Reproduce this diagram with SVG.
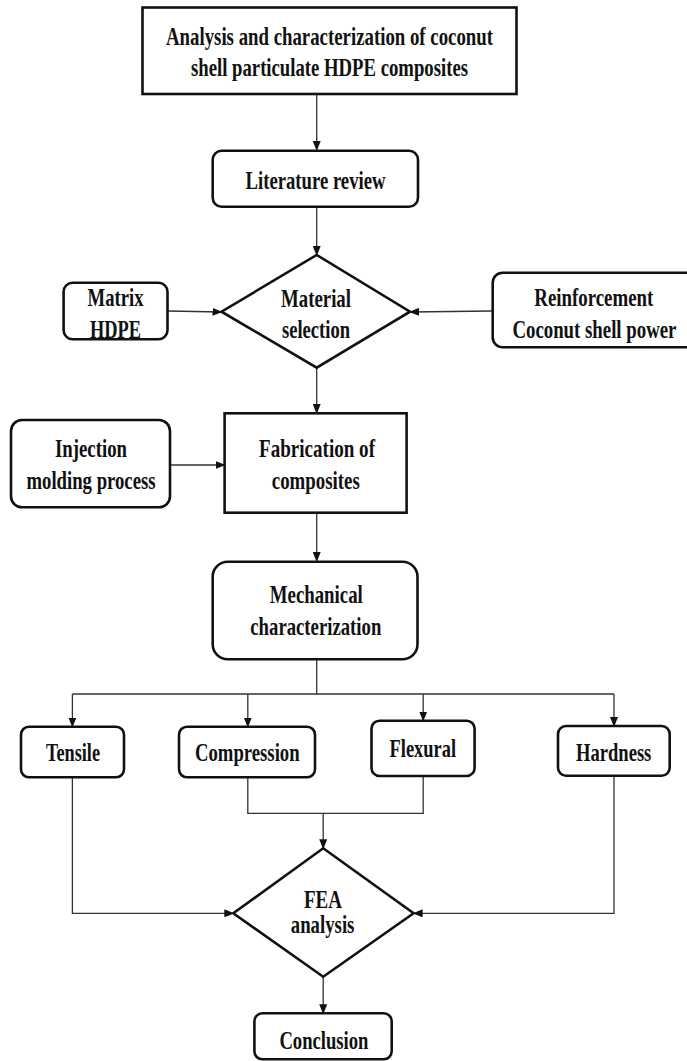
<svg xmlns="http://www.w3.org/2000/svg" width="687" height="1061" viewBox="0 0 687 1061">
<style>
.box{fill:#fff;stroke:#111;stroke-width:2.6}
.t{font-family:"Liberation Serif","Times New Roman",serif;font-weight:bold;font-size:25px;fill:#111;text-anchor:middle}
.c{fill:none;stroke:#333;stroke-width:1.3}
</style>
<defs>
<marker id="ah" markerWidth="10" markerHeight="8" refX="9" refY="4" orient="auto" markerUnits="userSpaceOnUse">
<path d="M0,0 L10,4 L0,8 Z" fill="#111"/>
</marker>
</defs>
<rect width="687" height="1061" fill="#fff"/>
<g id="connectors">
<line class="c" x1="316.7" y1="94" x2="316.7" y2="150" marker-end="url(#ah)"/>
<line class="c" x1="316.7" y1="207" x2="316.7" y2="255" marker-end="url(#ah)"/>
<line class="c" x1="167.5" y1="311" x2="221.5" y2="312" marker-end="url(#ah)"/>
<line class="c" x1="492" y1="311" x2="410" y2="312" marker-end="url(#ah)"/>
<line class="c" x1="316.7" y1="368" x2="316.7" y2="413" marker-end="url(#ah)"/>
<line class="c" x1="170" y1="465" x2="224.6" y2="465" marker-end="url(#ah)"/>
<line class="c" x1="316.7" y1="513" x2="316.7" y2="561" marker-end="url(#ah)"/>
<line class="c" x1="316.7" y1="659" x2="316.7" y2="694"/>
<line class="c" x1="72.4" y1="694" x2="614" y2="694"/>
<line class="c" x1="72.4" y1="694" x2="72.4" y2="726.5" marker-end="url(#ah)"/>
<line class="c" x1="247.8" y1="694" x2="247.8" y2="726.5" marker-end="url(#ah)"/>
<line class="c" x1="423.2" y1="694" x2="423.2" y2="720.5" marker-end="url(#ah)"/>
<line class="c" x1="614" y1="694" x2="614" y2="726" marker-end="url(#ah)"/>
<polyline class="c" points="247.8,777 247.8,813.3 423.2,813.3 423.2,776"/>
<line class="c" x1="323.2" y1="813.3" x2="323.2" y2="848.3" marker-end="url(#ah)"/>
<polyline class="c" points="72.4,777 72.4,913.3 233.3,913.3" marker-end="url(#ah)"/>
<polyline class="c" points="614,775.7 614,913.3 413.6,913.3" marker-end="url(#ah)"/>
<line class="c" x1="323.2" y1="976.7" x2="323.2" y2="1013.3" marker-end="url(#ah)"/>
</g>
<g id="title">
<rect class="box" x="142.5" y="7.5" width="374" height="86.5"/>
<text class="t" x="329.5" y="45" textLength="327" lengthAdjust="spacingAndGlyphs">Analysis and characterization of coconut</text>
<text class="t" x="329.5" y="76" textLength="277" lengthAdjust="spacingAndGlyphs">shell particulate HDPE composites</text>
</g>
<g id="literature">
<rect class="box" x="212.7" y="150.7" width="205.3" height="56" rx="9"/>
<text class="t" x="315.5" y="189" textLength="140" lengthAdjust="spacingAndGlyphs">Literature review</text>
</g>
<g id="material">
<polygon class="box" points="316.7,255 410,311.7 316.7,367.7 221.5,311.7"/>
<text class="t" x="316" y="307" textLength="70" lengthAdjust="spacingAndGlyphs">Material</text>
<text class="t" x="316" y="338" textLength="68" lengthAdjust="spacingAndGlyphs">selection</text>
</g>
<g id="matrix">
<rect class="box" x="63.6" y="282.7" width="103.9" height="56.6" rx="9"/>
<text class="t" x="115.5" y="306" textLength="56" lengthAdjust="spacingAndGlyphs">Matrix</text>
<text class="t" x="115.5" y="338" textLength="51" lengthAdjust="spacingAndGlyphs">HDPE</text>
</g>
<g id="reinforcement">
<rect class="box" x="492.7" y="272.7" width="205" height="74.6" rx="10"/>
<text class="t" transform="translate(593.8 305.5) scale(0.75 1)" x="0" y="0" textLength="158.7" lengthAdjust="spacingAndGlyphs">Reinforcement</text>
<text class="t" transform="translate(594.4 337.5) scale(0.75 1)" x="0" y="0" textLength="218.7" lengthAdjust="spacingAndGlyphs">Coconut shell power</text>
</g>
<g id="fabrication">
<rect class="box" x="224.6" y="413.3" width="182" height="99.4"/>
<text class="t" x="317" y="457" textLength="116" lengthAdjust="spacingAndGlyphs">Fabrication of</text>
<text class="t" x="315.8" y="488.5" textLength="88" lengthAdjust="spacingAndGlyphs">composites</text>
</g>
<g id="injection">
<rect class="box" x="11" y="420" width="159" height="87.3" rx="11"/>
<text class="t" x="91" y="457" textLength="72" lengthAdjust="spacingAndGlyphs">Injection</text>
<text class="t" x="91" y="488.5" textLength="129" lengthAdjust="spacingAndGlyphs">molding process</text>
</g>
<g id="mechanical">
<rect class="box" x="212.7" y="561.7" width="204.8" height="97.6" rx="15"/>
<text class="t" x="316.3" y="603" textLength="93" lengthAdjust="spacingAndGlyphs">Mechanical</text>
<text class="t" x="315.8" y="635" textLength="131" lengthAdjust="spacingAndGlyphs">characterization</text>
</g>
<g id="tensile">
<rect class="box" x="21" y="726.7" width="103" height="50.6" rx="8"/>
<text class="t" x="73" y="760.5" textLength="54" lengthAdjust="spacingAndGlyphs">Tensile</text>
</g>
<g id="compression">
<rect class="box" x="179" y="726.7" width="136" height="50.6" rx="8"/>
<text class="t" x="247.3" y="760.5" textLength="104.6" lengthAdjust="spacingAndGlyphs">Compression</text>
</g>
<g id="flexural">
<rect class="box" x="371.5" y="720.7" width="103.1" height="55.3" rx="8"/>
<text class="t" x="422.8" y="757" textLength="66.5" lengthAdjust="spacingAndGlyphs">Flexural</text>
</g>
<g id="hardness">
<rect class="box" x="558" y="726" width="111.7" height="49.7" rx="8"/>
<text class="t" x="613.7" y="760.5" textLength="75.3" lengthAdjust="spacingAndGlyphs">Hardness</text>
</g>
<g id="fea">
<polygon class="box" points="323.2,848.3 413.6,913.3 323.2,976.7 233.3,913.3"/>
<text class="t" x="323" y="907.5" textLength="38" lengthAdjust="spacingAndGlyphs">FEA</text>
<text class="t" x="322.6" y="933" textLength="63.6" lengthAdjust="spacingAndGlyphs">analysis</text>
</g>
<g id="conclusion">
<rect class="box" x="254.4" y="1013.3" width="137.3" height="46" rx="8"/>
<text class="t" x="323.9" y="1048.5" textLength="89" lengthAdjust="spacingAndGlyphs">Conclusion</text>
</g>
</svg>
